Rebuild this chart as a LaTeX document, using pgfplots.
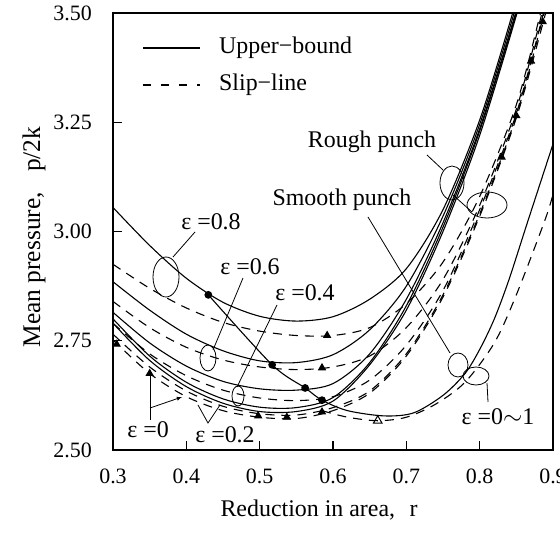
\documentclass[border=0pt]{standalone}
\usepackage{fontspec}
\setmainfont{Liberation Serif}
\usepackage{pgfplots}
\pgfplotsset{compat=1.18}
\begin{document}
\fontsize{24}{28}\selectfont
\begin{tikzpicture}[x=1bp,y=1bp]
\begin{axis}[
  at={(0,0)}, anchor=south west,
  scale only axis, width=440bp, height=437bp,
  xmin=0.3, xmax=0.9, ymin=2.5, ymax=3.5,
  xtick={0.3,0.4,0.5,0.6,0.7,0.8,0.9},
  xticklabels={0.3,0.4,0.5,0.6,0.7,0.8,0.9},
  ytick={2.5,2.75,3,3.25,3.5},
  yticklabels={2.50,2.75,3.00,3.25,3.50},
  tick label style={font=\fontsize{22}{26}\selectfont},
  tick align=inside, xtick pos=bottom, ytick pos=left,
  major tick length=9bp,
  tick style={line width=1.2bp, black},
  axis line style={line width=1.6bp},
  xticklabel style={yshift=-11bp},
  yticklabel style={xshift=-13bp},
  cycle list={{black}},
  every axis plot post/.append style={line width=1.1bp, black},
]
% ---- Rough punch, upper-bound (solid)
\addplot[smooth] coordinates {(0.3,3.055)(0.35,2.968)(0.4,2.893)(0.45,2.838)(0.5,2.806)(0.55,2.795)(0.6,2.805)(0.65,2.845)(0.7,2.915)(0.75,3.05)(0.8,3.255)(0.845,3.5)(0.855,3.57)};
\addplot[smooth] coordinates {(0.3,2.885)(0.35,2.82)(0.4,2.765)(0.45,2.727)(0.5,2.704)(0.55,2.70)(0.6,2.718)(0.65,2.775)(0.7,2.875)(0.75,3.035)(0.8,3.245)(0.847,3.5)(0.857,3.57)};
\addplot[smooth] coordinates {(0.3,2.815)(0.35,2.745)(0.4,2.692)(0.45,2.657)(0.5,2.64)(0.55,2.637)(0.6,2.652)(0.65,2.72)(0.7,2.845)(0.75,3.02)(0.8,3.235)(0.849,3.5)(0.859,3.57)};
\addplot[smooth] coordinates {(0.3,2.80)(0.35,2.715)(0.4,2.655)(0.45,2.617)(0.5,2.598)(0.55,2.597)(0.6,2.62)(0.65,2.70)(0.7,2.83)(0.75,3.01)(0.8,3.23)(0.85,3.5)(0.86,3.57)};
\addplot[smooth] coordinates {(0.3,2.79)(0.35,2.705)(0.4,2.645)(0.45,2.607)(0.5,2.588)(0.55,2.588)(0.6,2.612)(0.65,2.695)(0.7,2.82)(0.75,3.0)(0.8,3.22)(0.851,3.5)(0.861,3.57)};
% ---- Rough punch, slip-line (dashed)
\addplot[smooth, dash pattern=on 9bp off 7bp] coordinates {(0.3,2.925)(0.35,2.87)(0.4,2.825)(0.45,2.792)(0.5,2.772)(0.55,2.762)(0.6,2.762)(0.65,2.78)(0.7,2.835)(0.75,2.93)(0.8,3.08)(0.85,3.29)(0.883,3.5)(0.893,3.57)};
\addplot[smooth, dash pattern=on 9bp off 7bp] coordinates {(0.3,2.84)(0.35,2.78)(0.4,2.735)(0.45,2.706)(0.5,2.69)(0.55,2.684)(0.6,2.69)(0.65,2.715)(0.7,2.78)(0.75,2.89)(0.8,3.06)(0.85,3.28)(0.885,3.5)(0.895,3.57)};
\addplot[smooth, dash pattern=on 9bp off 7bp] coordinates {(0.3,2.79)(0.35,2.72)(0.4,2.67)(0.45,2.637)(0.5,2.619)(0.55,2.613)(0.6,2.622)(0.65,2.66)(0.7,2.74)(0.75,2.865)(0.8,3.05)(0.85,3.27)(0.887,3.5)(0.897,3.57)};
\addplot[smooth, dash pattern=on 9bp off 7bp] coordinates {(0.3,2.765)(0.35,2.69)(0.4,2.635)(0.45,2.6)(0.5,2.583)(0.55,2.58)(0.6,2.597)(0.65,2.635)(0.7,2.72)(0.75,2.855)(0.8,3.04)(0.85,3.265)(0.888,3.5)(0.898,3.57)};
\addplot[smooth, dash pattern=on 9bp off 7bp] coordinates {(0.3,2.752)(0.35,2.675)(0.4,2.622)(0.45,2.59)(0.5,2.575)(0.55,2.572)(0.6,2.59)(0.65,2.63)(0.7,2.715)(0.75,2.85)(0.8,3.035)(0.85,3.26)(0.89,3.5)(0.9,3.57)};
% ---- Smooth punch
\addplot[smooth] coordinates {(0.43,2.855)(0.517,2.695)(0.562,2.642)(0.585,2.614)(0.62,2.59)(0.67,2.578)(0.71,2.585)(0.75,2.625)(0.78,2.675)(0.8,2.73)(0.82,2.8)(0.84,2.89)(0.865,3.02)(0.9,3.2)};
\addplot[smooth, dash pattern=on 9bp off 7bp] coordinates {(0.585,2.59)(0.62,2.575)(0.661,2.567)(0.7,2.575)(0.74,2.605)(0.78,2.655)(0.82,2.745)(0.85,2.855)(0.889,3.026)(0.9,3.085)};
% ---- markers
\addplot[only marks, mark=*, mark size=3.3bp] coordinates {(0.43,2.855)(0.517,2.695)(0.562,2.642)(0.585,2.614)};
\addplot[only marks, mark=triangle*, mark size=3.8bp] coordinates {(0.592,2.762)(0.585,2.688)(0.585,2.587)(0.498,2.578)(0.537,2.575)(0.305,2.742)(0.35,2.675)(0.87,3.39)(0.85,3.265)(0.83,3.17)(0.886,3.48)};
\addplot[only marks, mark=triangle, mark size=5bp, mark options={line width=1bp, fill=white}] coordinates {(0.661,2.567)};
\end{axis}
\pgfresetboundingbox
\path (-113,-88) rectangle (447,450);
% legend
\draw[line width=2.8bp] (30,402) -- (87,402);
\node[anchor=west] at (98,402) {Upper−bound};
\draw[line width=1.1bp, dash pattern=on 8bp off 10bp] (30,365) -- (87,365);
\node[anchor=west] at (98,365) {Slip−line};
% labels
\node at (206,-60) {Reduction in area,\hspace{0.6em}r};
\node[rotate=90, font=\fontsize{25.5}{30}\selectfont] at (-79,213) {Mean pressure,\hspace{0.8em}p/2k};
\node at (98,228) {ε =0.8};
\node at (137,183) {ε =0.6};
\node at (192,157) {ε =0.4};
\node at (35,20) {ε =0};
\node at (112,15) {ε =0.2};
\node at (385,33) {ε =0$\sim$1};
\node at (229,250) {Smooth punch};
\node at (259,308) {Rough punch};
% pointers
\begin{scope}[line width=0.8bp]
\draw (82,218) -- (60,193);
\draw (53,173) ellipse [x radius=13, y radius=20];
\draw (130,172) -- (100,100);
\draw (95,92) ellipse [x radius=8, y radius=13];
\draw (164,145) -- (124,63);
\draw (125,54) ellipse [x radius=6, y radius=10];
\draw (37,30) -- (37,77);
\draw[-latex] (37,42) -- (69,53);
\draw (85,45) -- (95,27) -- (107,45);
\draw (314,295) -- (330,280);
\draw (339,267) ellipse [x radius=12, y radius=17];
\draw (340,255) -- (359,238);
\draw (374,245) ellipse [x radius=20, y radius=13];
\draw (255,233) -- (337,97);
\draw (345,85) ellipse [x radius=10, y radius=12];
\draw (375,48) -- (374,67);
\draw (363,74) ellipse [x radius=13, y radius=9];
\end{scope}
\end{tikzpicture}
\end{document}
